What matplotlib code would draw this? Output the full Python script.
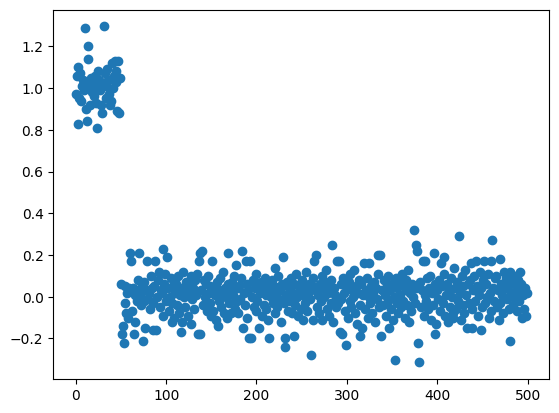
import numpy as np
import matplotlib.pyplot as plt

# values (index 0-49: shifted group near 1.0)
shifted = [
    0.97, 1.06, 0.83, 1.10, 0.95, 1.07, 0.94, 1.01, 1.04, 0.99,
    1.29, 0.90, 0.84, 1.20, 1.14, 1.02, 0.92, 1.05, 0.98, 1.03,
    0.96, 1.06, 0.93, 1.00, 0.81, 1.08, 1.04, 0.99, 0.92, 0.88,
    1.02, 1.295, 1.07, 1.01, 0.95, 1.09, 1.04, 0.97, 0.92, 0.94,
    1.12, 1.00, 1.06, 1.13, 1.03, 1.08, 0.89, 1.13, 0.88, 1.05,
]

# index 50-499: group around 0
normal = [
    0.06, -0.18, -0.14, -0.22, 0.05, -0.03, -0.08, 0.02, -0.10, 0.04,
    0.21, 0.17, -0.07, 0.04, -0.18, -0.12, 0.01, 0.03, -0.02, 0.08,
    0.21, 0.01, -0.04, 0.05, -0.21, 0.07, -0.02, -0.15, 0.03, 0.17,
    -0.01, 0.02, -0.06, 0.10, 0.04, -0.03, -0.16, 0.05, 0.17, -0.16,
    0.00, 0.08, 0.12, -0.05, 0.03, 0.02, 0.23, -0.09, 0.06, 0.11,
    -0.02, 0.19, 0.04, -0.07, 0.00, 0.09, -0.03, -0.12, 0.05, -0.10,
    0.02, 0.06, -0.04, 0.10, -0.08, 0.01, -0.17, 0.04, -0.12, 0.12,
    0.00, -0.05, 0.07, 0.03, -0.09, 0.02, 0.06, -0.13, 0.10, -0.01,
    0.04, -0.06, 0.08, 0.01, 0.11, -0.18, 0.17, -0.18, 0.21, 0.03,
    0.22, -0.04, 0.08, 0.00, 0.06, -0.07, 0.10, 0.02, -0.03, 0.05,
    -0.09, 0.17, -0.07, 0.04, 0.01, -0.11, 0.07, -0.14, 0.03, -0.02,
    0.09, -0.05, 0.02, 0.12, -0.08, 0.04, 0.00, -0.10, 0.06, 0.21,
    -0.03, 0.03, -0.08, 0.07, 0.01, 0.10, -0.06, 0.15, -0.02, 0.04,
    -0.08, 0.05, -0.01, 0.09, 0.22, -0.15, 0.02, -0.04, 0.17, 0.06,
    -0.10, 0.03, -0.20, 0.17, -0.20, 0.00, 0.08, -0.05, 0.04, -0.07,
    0.11, -0.02, 0.05, -0.15, 0.02, 0.07, -0.09, 0.03, -0.04, 0.09,
    0.01, -0.06, 0.06, -0.11, -0.20, 0.04, 0.00, 0.08, -0.03, 0.05,
    -0.08, 0.14, 0.02, -0.05, 0.10, -0.01, 0.03, -0.12, 0.06, 0.19,
    -0.03, -0.24, -0.20, 0.01, 0.07, -0.07, 0.04, -0.02, 0.09, -0.08,
    0.02, -0.19, 0.06, -0.04, 0.11, 0.00, -0.09, 0.05, 0.03, -0.06,
    0.08, -0.11, 0.01, 0.04, -0.03, 0.12, -0.07, 0.02, 0.06, -0.01,
    -0.28, 0.05, -0.11, 0.09, 0.17, 0.03, 0.20, -0.05, 0.01, -0.08,
    0.06, -0.02, 0.10, -0.11, 0.04, 0.00, 0.07, 0.13, -0.06, 0.02,
    -0.09, 0.05, -0.03, 0.08, 0.25, -0.12, 0.04, 0.01, -0.05, 0.17,
    -0.03, 0.17, -0.17, 0.06, -0.01, -0.18, 0.09, 0.02, -0.07, -0.23,
    0.04, -0.10, 0.07, -0.02, 0.11, -0.05, 0.03, 0.00, 0.13, -0.08,
    0.05, -0.13, 0.02, 0.08, -0.04, -0.19, 0.06, -0.15, 0.01, 0.16,
    -0.06, 0.03, 0.09, -0.10, 0.00, 0.16, -0.03, 0.05, -0.08, 0.02,
    0.07, -0.12, 0.04, -0.01, 0.20, 0.11, -0.05, 0.20, -0.19, 0.03,
    -0.04, 0.08, 0.01, -0.09, 0.05, -0.02, 0.10, -0.15, 0.03, -0.06,
    0.06, -0.11, 0.00, -0.305, 0.09, -0.03, 0.04, -0.08, 0.07, 0.01,
    -0.05, 0.11, -0.02, 0.05, -0.10, 0.03, 0.08, -0.04, 0.13, -0.12,
    0.02, -0.07, 0.06, 0.00, 0.32, -0.03, 0.04, 0.25, 0.22, -0.22,
    -0.315, 0.07, -0.05, 0.03, 0.17, -0.09, 0.17, 0.01, -0.02, 0.09,
    -0.06, 0.04, 0.10, -0.11, 0.02, -0.04, 0.21, -0.18, 0.06, -0.13,
    0.03, -0.01, 0.08, -0.07, 0.16, 0.05, -0.03, 0.11, 0.19, -0.09,
    0.01, 0.06, -0.12, 0.03, -0.05, 0.09, 0.00, -0.08, -0.10, 0.14,
    0.04, -0.06, 0.07, -0.02, 0.29, 0.02, -0.11, 0.10, -0.04, 0.05,
    -0.08, 0.13, 0.01, -0.15, 0.06, -0.03, 0.08, 0.16, -0.06, -0.15,
    0.03, 0.10, -0.02, 0.17, 0.05, -0.09, 0.01, 0.12, -0.16, 0.04,
    -0.05, 0.08, 0.17, -0.03, 0.06, 0.00, 0.11, -0.10, 0.02, 0.17,
    -0.07, 0.27, 0.04, -0.02, 0.09, 0.10, -0.05, 0.03, -0.11, 0.18,
    -0.03, 0.06, 0.01, -0.08, 0.12, 0.04, 0.09, -0.01, 0.05, -0.06,
    -0.21, 0.12, 0.02, 0.07, -0.04, 0.10, 0.00, 0.05, -0.07, 0.08,
    0.03, -0.02, 0.12, 0.06, -0.10, 0.01, -0.06, 0.04, -0.09, 0.02,
]

y = np.array(shifted + normal)
x = np.arange(len(y))

plt.figure(figsize=(6.4, 4.8), dpi=100)
plt.scatter(x, y)
plt.savefig("out.png", dpi=100, bbox_inches="tight")
